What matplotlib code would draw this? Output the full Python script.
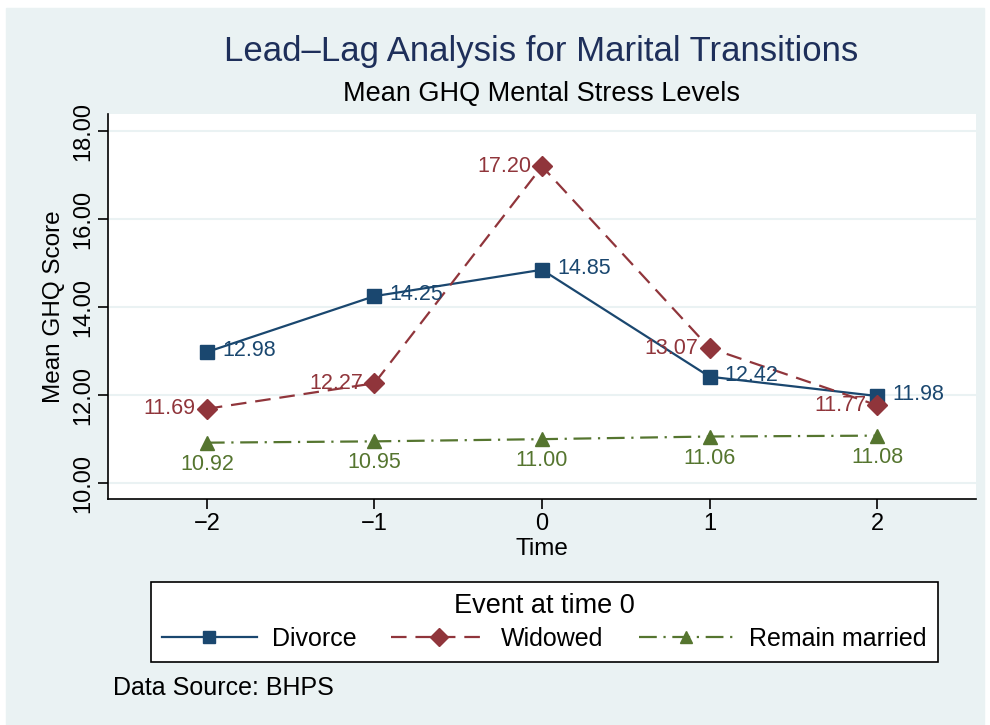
import numpy as np
import matplotlib.pyplot as plt

plt.rcParams['font.family'] = ['Liberation Sans', 'DejaVu Sans']

# datos
tiempo = [-2, -1, 0, 1, 2]
divorcio = [12.98, 14.25, 14.85, 12.42, 11.98]
viudez = [11.69, 12.27, 17.20, 13.07, 11.77]
casados = [10.92, 10.95, 11.00, 11.06, 11.08]
y_ticks = [10, 12, 14, 16, 18]

bg = '#eaf2f3'
c_div = '#1a476f'
c_viu = '#90353b'
c_cas = '#55752f'

fig = plt.figure(figsize=(9.9, 7.25), dpi=100)
fig.patch.set_facecolor('white')
# panel de fondo estilo stata
fig.patches.append(plt.Rectangle((6/990, 0), 1 - 12/990, 1 - 8/725,
                                 transform=fig.transFigure, color=bg, zorder=-10))

ax = fig.add_axes([108/990, 1 - 499/725, (976 - 108)/990, (499 - 114)/725])
ax.set_facecolor('white')

ax.plot(tiempo, divorcio, color=c_div, lw=1.6, marker='s', ms=10, label='Divorce')
ax.plot(tiempo, viudez, color=c_viu, lw=1.6, ls=(0, (7, 4)), marker='D', ms=10, label='Widowed')
ax.plot(tiempo, casados, color=c_cas, lw=1.6, ls=(0, (8, 3, 1, 3)), marker='^', ms=10,
        label='Remain married')

for x, y in zip(tiempo, divorcio):
    ax.annotate(f'{y:.2f}', (x, y), xytext=(11, 1), textcoords='offset points',
                ha='left', va='center', color=c_div, fontsize=15.5)
for x, y in zip(tiempo, viudez):
    ax.annotate(f'{y:.2f}', (x, y), xytext=(-8, 0), textcoords='offset points',
                ha='right', va='center', color=c_viu, fontsize=15.5)
for x, y in zip(tiempo, casados):
    ax.annotate(f'{y:.2f}', (x, y), xytext=(0, -8), textcoords='offset points',
                ha='center', va='top', color=c_cas, fontsize=15.5)

ax.set_xlim(-2.59, 2.59)
ax.set_ylim(9.64, 18.39)
ax.set_xticks(tiempo)
ax.set_xticklabels(['\u22122', '\u22121', '0', '1', '2'])
ax.set_yticks(y_ticks)
ax.set_yticklabels([f'{v:.2f}' for v in y_ticks], rotation=90, va='center')
ax.tick_params(labelsize=17, length=7, width=1.2, pad=3)
ax.grid(axis='y', color=bg, lw=1.5)
ax.set_axisbelow(True)
for s in ['top', 'right']:
    ax.spines[s].set_visible(False)
for s in ['left', 'bottom']:
    ax.spines[s].set_linewidth(1.2)

ax.set_xlabel('Time', fontsize=17.5, labelpad=2)
ax.set_ylabel('Mean GHQ Score', fontsize=17.5, labelpad=5)

fig.text(0.547, 1 - 52/725, 'Lead\u2013Lag Analysis for Marital Transitions',
         ha='center', va='center', fontsize=25, color='#1e2f5a')
fig.text(0.547, 1 - 94/725, 'Mean GHQ Mental Stress Levels',
         ha='center', va='center', fontsize=19.5, color='black')

leg = fig.legend(loc='center', bbox_to_anchor=(544/990, 1 - 622/725), ncol=3,
                 title='Event at time 0', fontsize=18, title_fontsize=19.5,
                 frameon=True, fancybox=False, edgecolor='black', facecolor='white',
                 framealpha=1, handlelength=3.8,
                 handletextpad=0.6, columnspacing=1.4, borderpad=0.45,
                 markerscale=0.9, labelspacing=0.3)
leg.get_frame().set_linewidth(1.2)

fig.text(113/990, 1 - 688/725, 'Data Source: BHPS', ha='left', va='center', fontsize=18)

plt.savefig('out.png', dpi=100, facecolor=fig.get_facecolor())
